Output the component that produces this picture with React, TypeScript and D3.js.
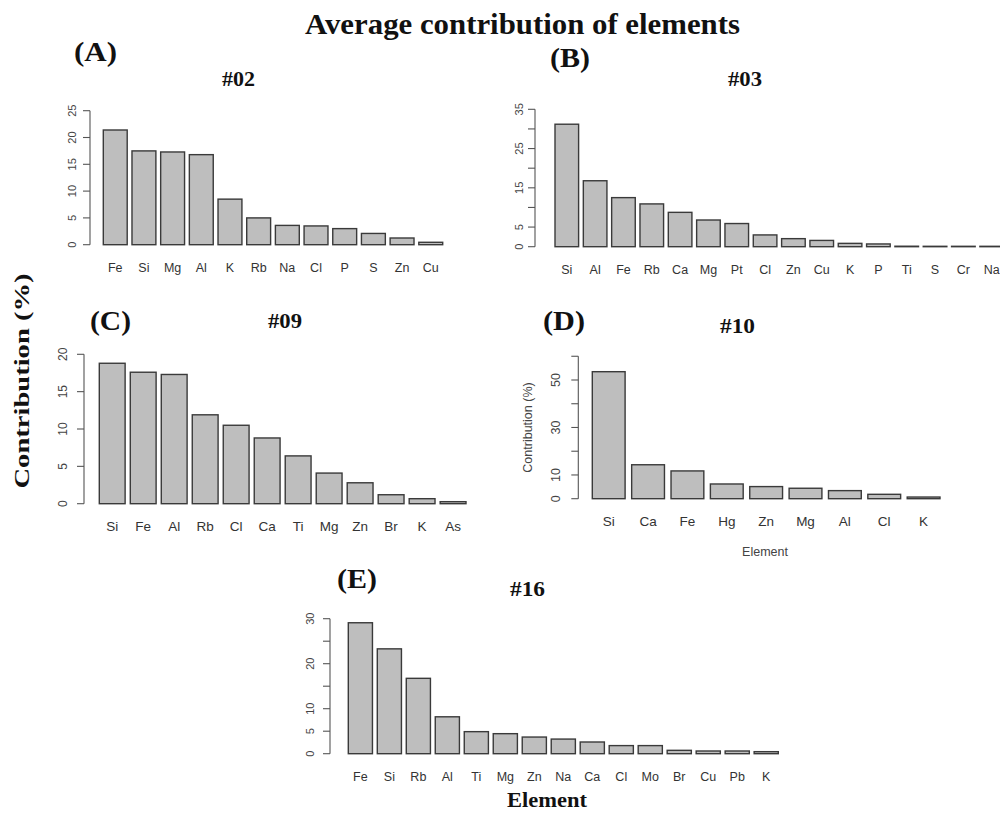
import React from "react";
import * as d3 from "d3";

// ---- data ----
const elementsA = ["Fe", "Si", "Mg", "Al", "K", "Rb", "Na", "Cl", "P", "S", "Zn", "Cu"];
const valuesA = [21.4, 17.5, 17.3, 16.8, 8.5, 5.0, 3.6, 3.5, 3.0, 2.1, 1.25, 0.45];
const ticksA = [0, 5, 10, 15, 20, 25];
const tickLabelsA = [0, 5, 10, 15, 20, 25];

const elementsB = ["Si", "Al", "Fe", "Rb", "Ca", "Mg", "Pt", "Cl", "Zn", "Cu", "K", "P", "Ti", "S", "Cr", "Na"];
const valuesB = [31.2, 16.8, 12.5, 10.9, 8.75, 6.8, 5.9, 3.0, 2.05, 1.6, 0.85, 0.7, 0.12, 0.1, 0.1, 0.1];
const ticksB = [0, 5, 10, 15, 20, 25, 30, 35];
const tickLabelsB = [0, 5, 15, 25, 35];

const elementsC = ["Si", "Fe", "Al", "Rb", "Cl", "Ca", "Ti", "Mg", "Zn", "Br", "K", "As"];
const valuesC = [18.8, 17.6, 17.3, 11.9, 10.5, 8.8, 6.4, 4.1, 2.8, 1.2, 0.67, 0.27];
const ticksC = [0, 5, 10, 15, 20];
const tickLabelsC = [0, 5, 10, 15, 20];

const elementsD = ["Si", "Ca", "Fe", "Hg", "Zn", "Mg", "Al", "Cl", "K"];
const valuesD = [53.5, 14.3, 11.7, 6.2, 5.1, 4.4, 3.4, 1.85, 0.7];
const ticksD = [0, 10, 20, 30, 40, 50, 60];
const tickLabelsD = [0, 10, 30, 50];

const elementsE = ["Fe", "Si", "Rb", "Al", "Ti", "Mg", "Zn", "Na", "Ca", "Cl", "Mo", "Br", "Cu", "Pb", "K"];
const valuesE = [29.1, 23.3, 16.75, 8.2, 4.9, 4.45, 3.7, 3.25, 2.6, 1.8, 1.8, 0.75, 0.6, 0.6, 0.45];
const ticksE = [0, 5, 10, 15, 20, 25, 30];
const tickLabelsE = [0, 5, 10, 20, 30];

const SANS = "Liberation Sans, Arial, sans-serif";
const SERIF = "Liberation Serif, Times New Roman, serif";

type PanelProps = {
  elements: string[];
  values: number[];
  ticks: number[];
  tickLabels: number[];
  axisX: number;
  y0: number;
  refValue: number;
  refY: number;
  barLeft: number;
  barRight: number;
  tickLabelOffset: number;
  tickFont: number;
  catFont: number;
};

function BarPanel(p: PanelProps) {
  const y = d3.scaleLinear().domain([0, p.refValue]).range([p.y0, p.refY]);
  const x = d3
    .scaleBand<string>()
    .domain(p.elements)
    .range([p.barLeft, p.barRight])
    .paddingInner(1 / 6)
    .paddingOuter(0);
  const tMin = d3.min(p.ticks) as number;
  const tMax = d3.max(p.ticks) as number;
  return (
    <g>
      {p.elements.map((el, i) => (
        <rect
          key={el + i}
          x={x(el)}
          y={y(p.values[i])}
          width={x.bandwidth()}
          height={y(0) - y(p.values[i])}
          fill="#bebebe"
          stroke="#3a3a3a"
          strokeWidth={1.4}
        />
      ))}
      <line x1={p.axisX} x2={p.axisX} y1={y(tMin)} y2={y(tMax)} stroke="#555" strokeWidth={1.1} />
      {p.ticks.map((t) => (
        <line key={"t" + t} x1={p.axisX - 7} x2={p.axisX} y1={y(t)} y2={y(t)} stroke="#555" strokeWidth={1.1} />
      ))}
      {p.tickLabels.map((t) => (
        <text
          key={"l" + t}
          transform={`translate(${p.axisX - p.tickLabelOffset},${y(t)}) rotate(-90)`}
          textAnchor="middle"
          dominantBaseline="central"
          fontFamily={SANS}
          fontSize={p.tickFont}
          fill="#444"
        >
          {t}
        </text>
      ))}
      {p.elements.map((el) => (
        <text
          key={"c" + el}
          x={(x(el) as number) + x.bandwidth() / 2}
          y={p.y0 + 23}
          textAnchor="middle"
          dominantBaseline="central"
          fontFamily={SANS}
          fontSize={p.catFont}
          fill="#333"
        >
          {el}
        </text>
      ))}
    </g>
  );
}

function BoldLabel(props: { x: number; y: number; text: string; size: number; len: number; anchor?: string }) {
  return (
    <text
      x={props.x}
      y={props.y}
      fontFamily={SERIF}
      fontWeight="bold"
      fontSize={props.size}
      textAnchor={props.anchor || "start"}
      textLength={props.len}
      lengthAdjust="spacingAndGlyphs"
      fill="#111"
    >
      {props.text}
    </text>
  );
}

export default function App() {
  return (
    <svg
      width={1000}
      height={814}
      style={{ position: "fixed", left: 0, top: 0, background: "#fff" }}
    >
      <rect width={1000} height={814} fill="#fff" />
      <BoldLabel x={305} y={34} text="Average contribution of elements" size={29} len={435} />

      <BoldLabel x={74} y={61} text="(A)" size={28} len={43} />
      <BoldLabel x={550} y={67} text="(B)" size={28} len={40} />
      <BoldLabel x={90} y={330} text="(C)" size={28} len={41} />
      <BoldLabel x={543} y={330} text="(D)" size={28} len={42} />
      <BoldLabel x={337} y={588} text="(E)" size={28} len={40} />

      <BoldLabel x={222} y={86} text="#02" size={20} len={33} />
      <BoldLabel x={728} y={86} text="#03" size={20} len={34} />
      <BoldLabel x={268} y={328} text="#09" size={20} len={34} />
      <BoldLabel x={720} y={333} text="#10" size={20} len={35} />
      <BoldLabel x={510} y={596} text="#16" size={20} len={35} />

      <text
        transform="translate(29,381) rotate(-90)"
        textAnchor="middle"
        fontFamily={SERIF}
        fontWeight="bold"
        fontSize={22}
        textLength={215}
        lengthAdjust="spacingAndGlyphs"
        fill="#111"
      >
        Contribution (%)
      </text>
      <BoldLabel x={547} y={807} text="Element" size={20} len={80} anchor="middle" />

      <BarPanel
        elements={elementsA} values={valuesA} ticks={ticksA} tickLabels={tickLabelsA}
        axisX={90} y0={244.7} refValue={25} refY={110.7} barLeft={103.3} barRight={442.7}
        tickLabelOffset={18.3} tickFont={11} catFont={12.5}
      />
      <BarPanel
        elements={elementsB} values={valuesB} ticks={ticksB} tickLabels={tickLabelsB}
        axisX={535} y0={246.7} refValue={35} refY={109.3} barLeft={555} barRight={1003.5}
        tickLabelOffset={16} tickFont={11} catFont={12.5}
      />
      <BarPanel
        elements={elementsC} values={valuesC} ticks={ticksC} tickLabels={tickLabelsC}
        axisX={84} y0={503.7} refValue={20} refY={354.3} barLeft={99.3} barRight={466}
        tickLabelOffset={21.3} tickFont={12} catFont={13.5}
      />
      <BarPanel
        elements={elementsD} values={valuesD} ticks={ticksD} tickLabels={tickLabelsD}
        axisX={578.3} y0={498.7} refValue={50} refY={380} barLeft={592.3} barRight={940}
        tickLabelOffset={22.3} tickFont={12.5} catFont={13.5}
      />
      <text
        transform="translate(527.7,427.5) rotate(-90)"
        textAnchor="middle"
        dominantBaseline="central"
        fontFamily={SANS}
        fontSize={12.5}
        fill="#444"
      >
        Contribution (%)
      </text>
      <text x={765} y={552.3} textAnchor="middle" dominantBaseline="central" fontFamily={SANS} fontSize={12.5} fill="#444">
        Element
      </text>
      <BarPanel
        elements={elementsE} values={valuesE} ticks={ticksE} tickLabels={tickLabelsE}
        axisX={330} y0={753.7} refValue={30} refY={618.7} barLeft={348.3} barRight={778.3}
        tickLabelOffset={20} tickFont={11} catFont={12.5}
      />
    </svg>
  );
}
